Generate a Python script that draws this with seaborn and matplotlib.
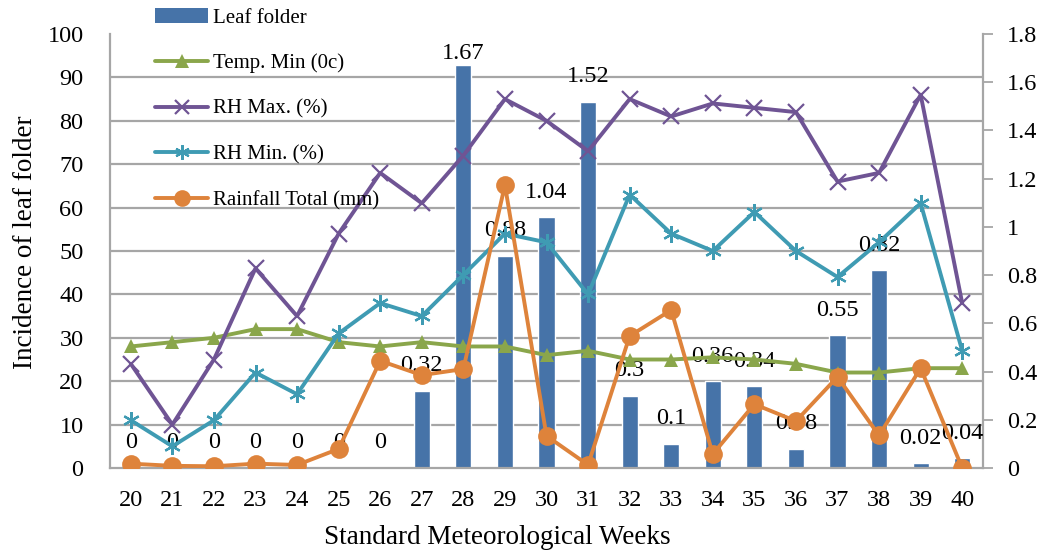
import numpy as np
import matplotlib
matplotlib.use("Agg")
import matplotlib.pyplot as plt
import seaborn as sns
from matplotlib.lines import Line2D
from matplotlib.patches import Patch

# ---------------- data ----------------
weeks = ["20", "21", "22", "23", "24", "25", "26", "27", "28", "29", "30",
         "31", "32", "33", "34", "35", "36", "37", "38", "39", "40"]
leaf_folder = [0, 0, 0, 0, 0, 0, 0, 0.32, 1.67, 0.88, 1.04,
               1.52, 0.30, 0.10, 0.36, 0.34, 0.08, 0.55, 0.82, 0.02, 0.04]
temp_min = [28, 29, 30, 32, 32, 29, 28, 29, 28, 28, 26,
            27, 25, 25, 25.5, 25, 24, 22, 22, 23, 23]
rh_max = [24, 10, 25, 46, 35, 54, 68, 61, 72, 85, 80,
          73, 85, 81, 84, 83, 82, 66, 68, 86, 38]
rh_min = [11, 5, 11, 22, 17, 31, 38, 35, 44.5, 54, 52,
          40, 63, 54, 50, 59, 50, 44, 52, 61, 27]
rainfall = [1.0, 0.5, 0.4, 1.0, 0.7, 4.4, 24.7, 21.4, 22.8, 65.2, 7.4,
            0.7, 30.4, 36.4, 3.2, 14.7, 10.8, 21.0, 7.5, 23.0, 0.0]

left_ticks = np.arange(0, 101, 10)
right_ticks = np.round(np.arange(0, 1.81, 0.2), 1)

# ---------------- style ----------------
sns.set_style("white")
plt.rcParams["font.family"] = ["Liberation Serif", "DejaVu Serif"]
plt.rcParams["text.color"] = "black"
plt.rcParams["axes.labelcolor"] = "black"
plt.rcParams["xtick.color"] = "black"
plt.rcParams["ytick.color"] = "black"

c_bar = "#4673A8"
c_temp = "#8AA64B"
c_rhmax = "#6F5494"
c_rhmin = "#3F9BB3"
c_rain = "#DE833B"
c_axis = "#A6A6A6"

W, H = 1042, 552
fig = plt.figure(figsize=(W / 100, H / 100), dpi=100)
L, R, T, B = 110, 983, 34, 468
ax_bar = fig.add_axes([L / W, 1 - B / H, (R - L) / W, (B - T) / H])
ax_bar.set_facecolor("white")
ax_line = ax_bar.twinx()

# bars on right scale
sns.barplot(x=weeks, y=leaf_folder, ax=ax_bar, color=c_bar, width=0.39,
            saturation=1, order=weeks, zorder=2)

# lines on left scale
lw = 2.8
sns.pointplot(x=weeks, y=temp_min, ax=ax_line, order=weeks, color=c_temp,
              errorbar=None, marker="^", markersize=10.5, linewidth=lw,
              markeredgewidth=0)
sns.pointplot(x=weeks, y=rh_max, ax=ax_line, order=weeks, color=c_rhmax,
              errorbar=None, marker="x", markersize=11.5, linewidth=lw,
              markeredgewidth=1.6)
sns.pointplot(x=weeks, y=rh_min, ax=ax_line, order=weeks, color=c_rhmin,
              errorbar=None, marker=(6, 2, 0), markersize=12, linewidth=lw,
              markeredgewidth=1.6)
sns.pointplot(x=weeks, y=rainfall, ax=ax_line, order=weeks, color=c_rain,
              errorbar=None, marker="o", markersize=13.5, linewidth=lw,
              markeredgewidth=0)

# axes limits
ax_bar.set_xlim(-0.5, len(weeks) - 0.5)
ax_bar.set_ylim(0, 1.8)
ax_line.set_ylim(0, 100)

# right axis (bars)
ax_bar.yaxis.tick_right()
ax_bar.set_yticks(right_ticks)
ax_bar.set_yticklabels([f"{v:g}" for v in right_ticks])
ax_bar.tick_params(axis="y", which="major", direction="out", length=7.2,
                   width=1.3, color=c_axis, pad=10, labelsize=17.5,
                   labelcolor="black")
ax_bar.tick_params(axis="x", length=0, pad=15.5, labelsize=17.5,
                   labelcolor="black")
ax_bar.set_ylabel("")

# gridlines at left-axis ticks, drawn beneath bars
ax_bar.set_yticks(left_ticks * (1.8 / 100), minor=True)
ax_bar.tick_params(axis="y", which="minor", length=0)
ax_bar.grid(False)
ax_bar.grid(which="minor", axis="y", color=c_axis, linewidth=1.6)
ax_bar.set_axisbelow(True)

# left axis (lines)
ax_line.yaxis.tick_left()
ax_line.yaxis.set_label_position("left")
ax_line.set_yticks(left_ticks)
ax_line.set_yticklabels([str(v) for v in left_ticks])
ax_line.tick_params(axis="y", length=0, pad=19, labelsize=17.5,
                    labelcolor="black")
ax_line.set_ylabel("Incidence of leaf folder", fontsize=19.5, color="black")
ax_line.yaxis.set_label_coords(-0.082, 0.52)

ax_bar.set_xlabel("Standard Meteorological Weeks", fontsize=19.5,
                  color="black")
ax_bar.xaxis.set_label_coords(0.444, -0.132)

for sp in ax_line.spines.values():
    sp.set_visible(False)
for name, sp in ax_bar.spines.items():
    if name == "top":
        sp.set_visible(False)
    else:
        sp.set_color(c_axis)
        sp.set_linewidth(1.6)

# data labels on bars
for i, v in enumerate(leaf_folder):
    off = 8.6 if v > 1.6 else 18
    ax_bar.annotate(f"{v:g}", xy=(i, v), xytext=(0, off),
                    textcoords="offset points", ha="center", va="center",
                    fontsize=17.5, color="black", zorder=5,
                    annotation_clip=False)

# legend
handles = [
    Patch(facecolor=c_bar, edgecolor="none"),
    Line2D([], [], color=c_temp, lw=lw, marker="^", markersize=9.5, markeredgewidth=0),
    Line2D([], [], color=c_rhmax, lw=lw, marker="x", markersize=10, markeredgewidth=1.6),
    Line2D([], [], color=c_rhmin, lw=lw, marker=(6, 2, 0), markersize=10.5, markeredgewidth=1.6),
    Line2D([], [], color=c_rain, lw=lw, marker="o", markersize=12, markeredgewidth=0),
]
labels = ["Leaf folder", "Temp. Min (0c)", "RH Max. (%)", "RH Min. (%)",
          "Rainfall Total (mm)"]
leg = fig.legend(handles, labels, loc="upper left",
                 bbox_to_anchor=(155 / W, 1 - 8 / H), frameon=False,
                 fontsize=15, borderpad=0, borderaxespad=0,
                 handlelength=2.55, handletextpad=0.25, labelspacing=1.25,
                 numpoints=1)
leg.set_zorder(10)

fig.savefig("out.png", dpi=100)
